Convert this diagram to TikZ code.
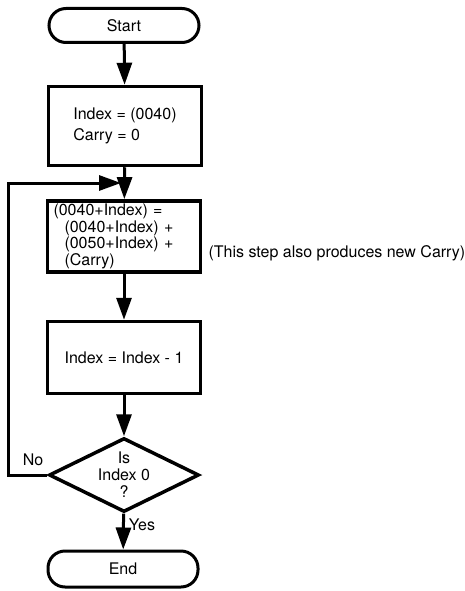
\documentclass[tikz,border=0pt]{standalone}
\usepackage{fontspec}
\setmainfont{TeX Gyre Heros}
\usetikzlibrary{arrows.meta,positioning,shapes.geometric}

\begin{document}
\begin{tikzpicture}[
  x=1pt, y=-1pt,
  font=\fontsize{16}{20}\selectfont,
  line width=3pt,
  flow/.style={-{Triangle[length=22pt,width=15pt]}, line width=3pt},
  terminal/.style={
    draw,
    line width=3pt,
    rounded corners=17pt,
    minimum width=150pt,
    minimum height=34pt
  },
  process/.style={
    draw,
    line width=3.5pt,
    minimum width=153pt,
    align=left
  },
  decision/.style={
    draw,
    line width=3.5pt,
    diamond,
    aspect=2,
    inner sep=0pt,
    minimum width=150pt,
    minimum height=74pt,
    align=center,
    font=\fontsize{16}{17}\selectfont
  },
  note/.style={inner sep=0pt}
]
\useasboundingbox (0,0) rectangle (465,591);

% Initialise, add with carry, step the index.
\node[terminal] (start) at (124,25.5) {Start};
\node[process, minimum height=79pt] (init) at (125,126)
  {Index = (0040)\\[1pt]Carry = 0};
\node[process, minimum height=64pt, text width=141pt, inner xsep=6pt,
  font=\fontsize{16}{16.5}\selectfont] (calc) at (124,236.5)
  {(0040+Index) =\\
   \hspace*{11pt}(0040+Index) +\\
   \hspace*{11pt}(0050+Index) +\\
   \hspace*{11pt}(Carry)};
\node[note, anchor=base west] (carrynote) at (207,257)
  {(This step also produces new Carry)};
\node[process, minimum height=72pt] (dec) at (124,357.5) {Index = Index - 1};
\node[decision] (test) at (124,475) {Is\\Index 0\\?};
\node[terminal, minimum height=36pt] (stop) at (123,569) {End};

\coordinate (merge) at (124,183);
\coordinate (back) at (8,475);

\draw[flow] (start) -- (init);
\draw[flow] (init) -- (calc);
\draw[flow] (calc) -- (dec);
\draw[flow] (dec) -- (test);
\draw[flow] (test) -- node[note, right=4pt, pos=0.3] {Yes} (stop);
\draw[flow, shorten >=3pt] (test.west) -- (back) |- (merge);
\node[note] (nolabel) at (33,460) {No};

\end{tikzpicture}
\end{document}
